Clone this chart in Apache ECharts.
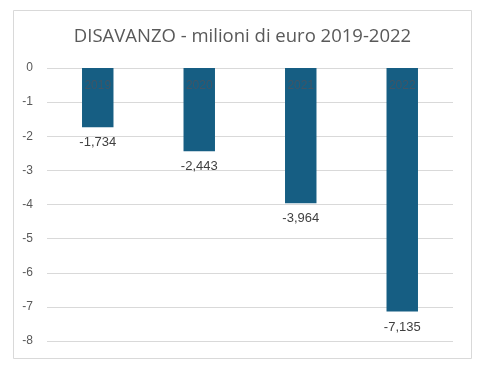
<!DOCTYPE html>
<html>
<head>
<meta charset="utf-8">
<script src="https://cdn.jsdelivr.net/npm/echarts@6/dist/echarts.min.js"></script>
<style>
html,body{margin:0;padding:0;background:#fff;}
#chart{width:485px;height:367px;}
</style>
</head>
<body>
<div id="chart"></div>
<script>
var categories = ['2019', '2020', '2021', '2022'];
var values = [-1.734, -2.443, -3.964, -7.135];
var yTicks = [0, -1, -2, -3, -4, -5, -6, -7, -8];
var titleText = 'DISAVANZO - milioni di euro 2019-2022';

var chart = echarts.init(document.getElementById('chart'), null, {renderer: 'canvas'});
chart.setOption({
  animation: false,
  backgroundColor: '#ffffff',
  graphic: [{
    type: 'rect',
    shape: {x: 13.5, y: 10.5, width: 458, height: 348},
    style: {fill: 'none', stroke: '#d9d9d9', lineWidth: 1},
    silent: true
  }],
  title: {
    text: titleText,
    left: 'center',
    top: 22,
    textStyle: {fontFamily: 'Open Sans', fontSize: 18.5, fontWeight: 'normal', color: '#595959'}
  },
  grid: {left: 47, right: 32, top: 68, bottom: 26, containLabel: false},
  xAxis: {
    type: 'category',
    data: categories,
    position: 'top',
    z: 10,
    axisLine: {show: false},
    axisTick: {show: false},
    axisLabel: {inside: true, margin: 12, color: '#3f5566', fontFamily: 'Liberation Sans', fontSize: 12}
  },
  yAxis: {
    type: 'value',
    min: Math.min.apply(null, yTicks),
    max: Math.max.apply(null, yTicks),
    interval: 1,
    axisLine: {show: false},
    axisTick: {show: false},
    splitLine: {lineStyle: {color: '#d9d9d9', width: 1}},
    axisLabel: {color: '#595959', fontFamily: 'Liberation Sans', fontSize: 12, margin: 14}
  },
  series: [{
    type: 'bar',
    data: values,
    barWidth: '31%',
    itemStyle: {color: '#165e83'},
    label: {
      show: true,
      position: 'bottom',
      distance: 9,
      color: '#404040',
      fontFamily: 'Liberation Sans',
      fontSize: 13,
      formatter: function (p) { return p.value.toFixed(3).replace('.', ','); }
    },
    z: 1
  }]
});
</script>
</body>
</html>
